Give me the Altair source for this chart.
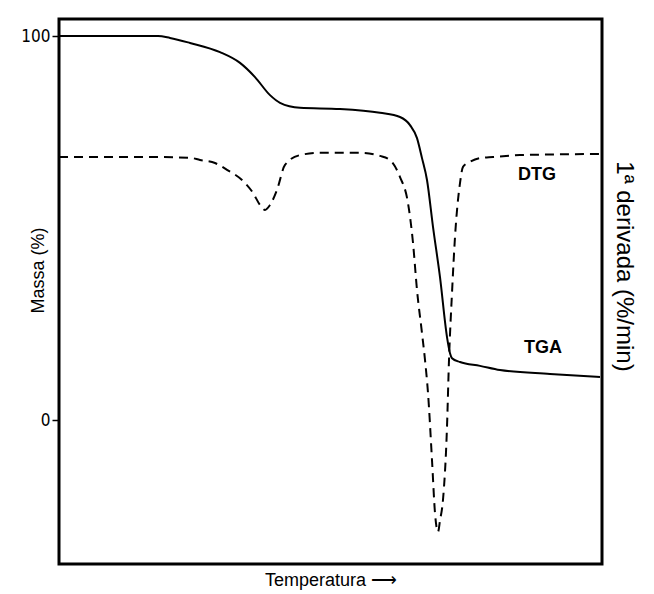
import altair as alt
import pandas as pd

# TGA curve (mass %, arbitrary temperature units)
tga_t = [0, 99, 111, 131, 161, 181, 196, 211, 221, 241, 281, 321, 341, 351, 358, 363,
         368, 374, 381, 388, 391, 393, 401, 421, 441, 491, 541]
tga_m = [100, 100, 99.5, 98.2, 95.8, 93.0, 89.3, 84.6, 82.6, 81.3, 81.0, 80.0, 78.9, 76.8,
         73.4, 68.2, 62.5, 50.3, 37.2, 21.6, 17.4, 16.1, 15.1, 14.1, 13.0, 12.0, 11.2]

# DTG curve (1st derivative, %/min)
dtg_t = [0, 91, 131, 141, 156, 168, 183, 194, 201, 206, 211, 218, 226, 241, 261, 301,
         321, 331, 341, 349, 354, 358, 363, 366, 369, 373, 376, 379, 381, 384, 388, 390,
         393, 396, 401, 404, 411, 421, 434, 461, 541]
dtg_d = [-0.08, -0.08, -0.10, -0.16, -0.24, -0.42, -0.69, -1.03, -1.35, -1.48, -1.35,
         -0.95, -0.29, -0.03, 0.03, 0.03, -0.05, -0.16, -0.61, -1.30, -2.35, -3.60,
         -4.74, -5.45, -6.32, -8.10, -9.50, -10.0, -9.7, -9.15, -7.22, -5.45, -3.68,
         -2.20, -0.77, -0.34, -0.21, -0.11, -0.08, -0.03, 0.0]

label_text = ["DTG", "TGA"]
label_t = [478, 484]
label_m = [63.8, 18.8]

tga_df = pd.DataFrame({"t": tga_t, "m": tga_m})
dtg_df = pd.DataFrame({"t": dtg_t, "d": dtg_d})
lab_df = pd.DataFrame({"t": label_t, "m": label_m, "text": label_text})

FONT = "Liberation Sans"

xscale = alt.Scale(domain=[0, 543], nice=False, zero=False)
x_axis = alt.Axis(title="Temperatura \u27f6", labels=False, ticks=False, domain=False,
                  grid=False, titleFontSize=18, titleFont=FONT, titleFontWeight="normal",
                  titleColor="black", titlePadding=7)
x_enc = alt.X("t:Q", scale=xscale, axis=x_axis)

left_scale = alt.Scale(domain=[-37.5, 104.43], nice=False, zero=False)
left_axis = alt.Axis(values=[0, 100], format="d", title="Massa (%)", tickSize=7,
                     tickWidth=1.5, tickColor="black",
                     labelFont="'DejaVu Sans Condensed', 'Liberation Sans', sans-serif",
                     labelFontSize=17, labelColor="black", labelPadding=2, domain=False,
                     grid=False, titleFont=FONT, titleFontSize=18, titleFontWeight="normal",
                     titleColor="black", titleAngle=270, titleX=-21, titleY=251,
                     titleBaseline="middle", titleAlign="center")

tga = alt.Chart(tga_df).mark_line(color="black", strokeWidth=2, interpolate="monotone").encode(
    x=x_enc,
    y=alt.Y("m:Q", scale=left_scale, axis=left_axis),
)

texts = alt.Chart(lab_df).mark_text(font=FONT, fontSize=18, fontWeight="bold",
                                    color="black").encode(
    x=x_enc,
    y=alt.Y("m:Q", scale=left_scale, axis=left_axis),
    text="text:N",
)

right_axis = alt.Axis(orient="right", title="1\u00aa derivada (%/min)", labels=False,
                      ticks=False, domain=False, grid=False, titleFont=FONT,
                      titleFontSize=24, titleFontWeight="normal", titleColor="black",
                      titleAngle=90, titleX=21, titleY=247, titleBaseline="middle",
                      titleAlign="center")

dtg = alt.Chart(dtg_df).mark_line(color="black", strokeWidth=2, strokeDash=[9, 6],
                                  interpolate="monotone").encode(
    x=x_enc,
    y=alt.Y("d:Q", scale=alt.Scale(domain=[-10.85, 3.571], nice=False, zero=False),
            axis=right_axis),
)

chart = alt.layer(alt.layer(tga, texts), dtg).resolve_scale(y="independent").properties(
    width=543, height=545,
    padding={"left": 51, "top": 11, "right": 40, "bottom": 26},
    autosize=alt.AutoSizeParams(type="none"),
    background="white",
).configure_view(stroke="black", strokeWidth=3)

chart.save("out.html", embed_options={"renderer": "svg", "actions": False})
